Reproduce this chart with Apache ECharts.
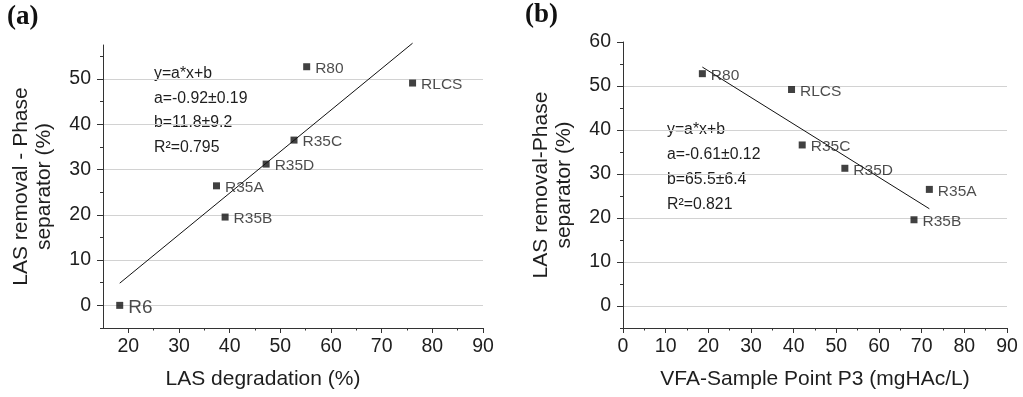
<!DOCTYPE html>
<html>
<head>
<meta charset="utf-8">
<script src="https://cdn.jsdelivr.net/npm/echarts@6/dist/echarts.min.js"></script>
<style>
html,body{margin:0;padding:0;background:#fff;}
#c{width:1023px;height:397px;}
</style>
</head>
<body>
<div id="c"></div>
<script>
// ---- data: panel (a) ----
const namesA = ['R6', 'R35A', 'R35B', 'R35D', 'R35C', 'R80', 'RLCS'];
const xA = [18.3, 37.4, 39.1, 47.2, 52.7, 55.2, 76.1];
const yA = [0, 26.4, 19.5, 31.2, 36.5, 52.7, 49.1];
const fitA = [[18.3, 4.9], [76.1, 57.9]];
const annA = ['y=a*x+b', 'a=-0.92\u00b10.19', 'b=11.8\u00b19.2', 'R\u00b2=0.795'];
const xTicksA = [20, 30, 40, 50, 60, 70, 80, 90];
const xMinorA = [25, 35, 45, 55, 65, 75, 85];
const yTicksA = [0, 10, 20, 30, 40, 50];
const yMinorA = [-5, 5, 15, 25, 35, 45, 55];

// ---- data: panel (b) ----
const namesB = ['R80', 'RLCS', 'R35C', 'R35D', 'R35A', 'R35B'];
const xB = [18.6, 39.5, 42.0, 52.0, 71.8, 68.2];
const yB = [52.8, 49.2, 36.6, 31.3, 26.5, 19.6];
const fitB = [[18.6, 54.3], [71.8, 22.1]];
const annB = ['y=a*x+b', 'a=-0.61\u00b10.12', 'b=65.5\u00b16.4', 'R\u00b2=0.821'];
const xTicksB = [0, 10, 20, 30, 40, 50, 60, 70, 80, 90];
const xMinorB = [5, 15, 25, 35, 45, 55, 65, 75, 85];
const yTicksB = [0, 10, 20, 30, 40, 50, 60];
const yMinorB = [-5, 5, 15, 25, 35, 45, 55];
const yGridB = [0, 10, 20, 30, 40, 50];

const FONT = "'Liberation Sans', Arial, sans-serif";
const AXC = '#333333';
const TXT = '#1e1e1e';
const GRIDC = '#d2d2d2';

function mainX(grid, min, max, ticks, name, nameExtra) {
  return {
    type: 'value', gridIndex: grid, min: min, max: max, position: 'bottom',
    axisLine: {show: true, onZero: false, lineStyle: {color: AXC, width: 1}},
    axisTick: {show: true, length: 5, customValues: ticks, lineStyle: {color: AXC}},
    axisLabel: {show: true, customValues: ticks, margin: 9, fontSize: 19.5, fontFamily: FONT, color: TXT},
    splitLine: {show: false},
    name: name, nameLocation: 'middle', nameGap: 41,
    nameTextStyle: Object.assign({fontSize: 21, fontFamily: FONT, color: TXT}, nameExtra || {})
  };
}
function minorX(grid, min, max, ticks) {
  return {
    type: 'value', gridIndex: grid, min: min, max: max, position: 'bottom',
    axisLine: {show: false, onZero: false},
    axisTick: {show: true, length: 2.5, customValues: ticks, lineStyle: {color: AXC}},
    axisLabel: {show: false}, splitLine: {show: false}
  };
}
function mainY(grid, min, max, ticks, name) {
  return {
    type: 'value', gridIndex: grid, min: min, max: max, position: 'left',
    axisLine: {show: true, onZero: false, lineStyle: {color: AXC, width: 1}},
    axisTick: {show: true, length: 6, customValues: ticks, lineStyle: {color: AXC}},
    axisLabel: {show: true, customValues: ticks, margin: 12, fontSize: 19.5, fontFamily: FONT, color: TXT},
    splitLine: {show: false},
    name: name, nameLocation: 'middle', nameRotate: 90, nameGap: 47,
    nameTextStyle: {fontSize: 21, lineHeight: 23, fontFamily: FONT, color: TXT}
  };
}
function minorY(grid, min, max, ticks) {
  return {
    type: 'value', gridIndex: grid, min: min, max: max, position: 'left',
    axisLine: {show: false, onZero: false},
    axisTick: {show: true, length: 3, customValues: ticks, lineStyle: {color: AXC}},
    axisLabel: {show: false}, splitLine: {show: false}
  };
}
function pts(names, xs, ys, bigFirst) {
  return names.map((n, i) => {
    const d = {name: n, value: [xs[i], ys[i]]};
    if (bigFirst && i === 0) d.label = {fontSize: 19};
    return d;
  });
}
function gridLines(vals) {
  return {
    silent: true, symbol: ['none', 'none'], animation: false, z: 0,
    label: {show: false},
    lineStyle: {color: GRIDC, width: 1, type: 'solid'},
    data: vals.map(v => ({yAxis: v}))
  };
}
const labelStyle = {show: true, position: 'right', distance: 5, offset: [0, 2], formatter: '{b}',
  fontSize: 15.5, fontFamily: FONT, color: TXT};

const chart = echarts.init(document.getElementById('c'), null, {renderer: 'canvas'});
chart.setOption({
  animation: false,
  backgroundColor: '#fff',
  grid: [
    {left: 103, top: 45, width: 380, height: 283, containLabel: false},
    {left: 623, top: 42, width: 384, height: 286, containLabel: false}
  ],
  xAxis: [
    mainX(0, 15, 90, xTicksA, 'LAS degradation (%)', {padding: [0, 60, 0, 0]}),
    minorX(0, 15, 90, xMinorA),
    mainX(1, 0, 90, xTicksB, 'VFA-Sample Point P3 (mgHAc/L)'),
    minorX(1, 0, 90, xMinorB)
  ],
  yAxis: [
    mainY(0, -5, 57.5, yTicksA, 'LAS removal - Phase\nseparator (%)'),
    minorY(0, -5, 57.5, yMinorA),
    mainY(1, -5, 60, yTicksB, 'LAS removal-Phase\nseparator (%)'),
    minorY(1, -5, 60, yMinorB)
  ],
  graphic: [
    {type: 'text', left: 7, top: 4, style: {text: '(a)', fontSize: 27, fontWeight: 'bold', fontFamily: "'Liberation Serif', 'Times New Roman', serif", fill: '#111'}},
    {type: 'text', left: 525, top: 2, style: {text: '(b)', fontSize: 27, fontWeight: 'bold', fontFamily: "'Liberation Serif', 'Times New Roman', serif", fill: '#111'}},
    {type: 'text', left: 154, top: 61, style: {text: annA.join('\n'), fontSize: 15.8, lineHeight: 24.8, fontFamily: FONT, fill: TXT}},
    {type: 'text', left: 667, top: 117, style: {text: annB.join('\n'), fontSize: 15.8, lineHeight: 25, fontFamily: FONT, fill: TXT}}
  ],
  series: [
    {type: 'line', xAxisIndex: 0, yAxisIndex: 0, data: [], markLine: gridLines(yTicksA), z: 0},
    {type: 'line', xAxisIndex: 0, yAxisIndex: 0, data: fitA, symbol: 'none', clip: false,
     lineStyle: {color: '#111', width: 1}, z: 3},
    {type: 'scatter', xAxisIndex: 0, yAxisIndex: 0, data: pts(namesA, xA, yA, true),
     symbol: 'rect', symbolSize: 7, itemStyle: {color: '#111'}, label: labelStyle, z: 4},
    {type: 'line', xAxisIndex: 2, yAxisIndex: 2, data: [], markLine: gridLines(yGridB), z: 0},
    {type: 'line', xAxisIndex: 2, yAxisIndex: 2, data: fitB, symbol: 'none', clip: false,
     lineStyle: {color: '#111', width: 1}, z: 3},
    {type: 'scatter', xAxisIndex: 2, yAxisIndex: 2, data: pts(namesB, xB, yB, false),
     symbol: 'rect', symbolSize: 7, itemStyle: {color: '#111'}, label: labelStyle, z: 4}
  ]
});
</script>
</body>
</html>
